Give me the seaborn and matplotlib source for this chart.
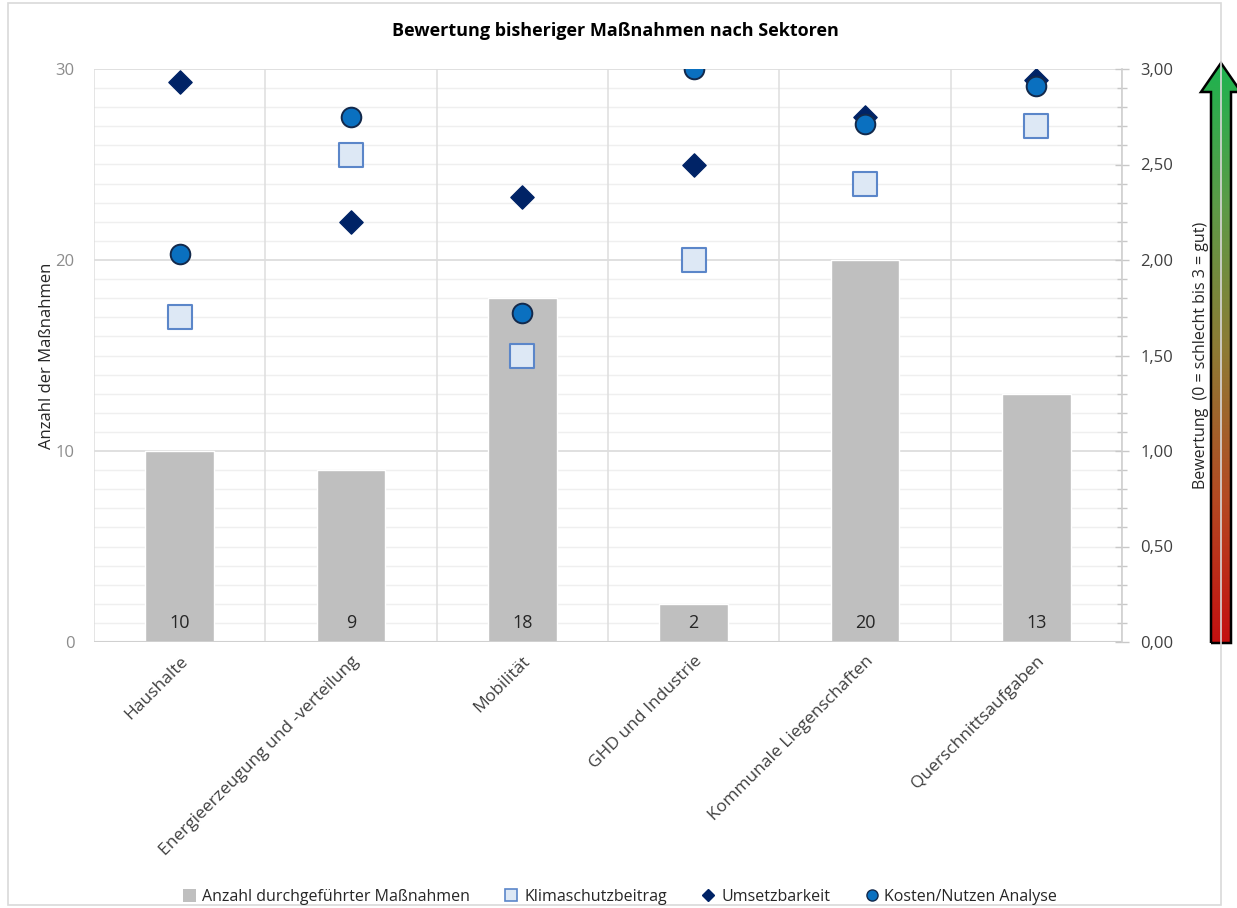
import numpy as np
import pandas as pd
import matplotlib.pyplot as plt
import seaborn as sns
from matplotlib.patches import Polygon, Rectangle
from matplotlib.ticker import FuncFormatter, MultipleLocator
from matplotlib.lines import Line2D

# === Data ===
sektoren = ["Haushalte", "Energieerzeugung und -verteilung", "Mobilität",
            "GHD und Industrie", "Kommunale Liegenschaften", "Querschnittsaufgaben"]
anzahl = [10, 9, 18, 2, 20, 13]
klimaschutz = [1.70, 2.55, 1.50, 2.00, 2.40, 2.70]
umsetzbarkeit = [2.93, 2.20, 2.33, 2.50, 2.75, 2.94]
kosten_nutzen = [2.03, 2.75, 1.72, 3.00, 2.71, 2.91]

df = pd.DataFrame({"Sektor": sektoren, "Anzahl": anzahl})
pos = np.arange(len(sektoren))

# === Style ===
sns.set_theme(style="white")
plt.rcParams["font.family"] = ["Open Sans", "DejaVu Sans"]

fig = plt.figure(figsize=(12.37, 9.08), dpi=100)
ax = fig.add_axes([94 / 1237, 1 - 642 / 908, (1122 - 94) / 1237, (642 - 69) / 908])

# outer frame
fig.patches.append(Rectangle((8 / 1237, 3 / 908), 1213 / 1237, 902 / 908,
                             transform=fig.transFigure, fill=False,
                             edgecolor="#d9d9d9", linewidth=1.2, zorder=0))

# === Bars (left axis) ===
sns.barplot(data=df, x="Sektor", y="Anzahl", color="#bfbfbf", width=0.4,
            saturation=1, ax=ax, zorder=2)
ax.set_xlim(-0.5, 5.5)
ax.set_ylim(0, 30)
ax.set_yticks([0, 10, 20, 30])
ax.yaxis.set_minor_locator(MultipleLocator(1))
ax.grid(which="minor", axis="y", color="#efefef", linewidth=1, zorder=0)
ax.grid(which="major", axis="y", color="#dadada", linewidth=1.2, zorder=0)
for b in np.arange(-0.5, 6.0, 1.0):
    ax.axvline(b, color="#dedede", linewidth=1.1, zorder=1)
ax.set_axisbelow(True)
for s in ax.spines.values():
    s.set_visible(False)
ax.axhline(0, color="#d0d0d0", linewidth=1.5, zorder=3)

ax.set_xlabel("")
ax.set_ylabel("Anzahl der Maßnahmen", fontsize=12, color="#262626", labelpad=0)
ax.tick_params(axis="y", which="both", length=0, labelsize=12, labelcolor="#8c8c8c", pad=14)
ax.tick_params(axis="x", length=0, pad=8)
ax.set_xticks(pos)
ax.set_xticklabels(sektoren, rotation=45, ha="right", rotation_mode="anchor",
                   fontsize=12.5, color="#404040")

for p, v in zip(pos, anzahl):
    ax.text(p, 1.0, str(v), ha="center", va="center", fontsize=13, color="#262626", zorder=4)

# === Markers (right axis) ===
ax2 = ax.twinx()
ax2.set_ylim(0, 3)
sns.scatterplot(x=pos, y=klimaschutz, marker="s", s=300, color="#dde8f5",
                edgecolor="#5b86c9", linewidth=1.5, ax=ax2, zorder=5)
sns.scatterplot(x=pos, y=umsetzbarkeit, marker="D", s=140, color="#002366",
                edgecolor="#002366", linewidth=1, ax=ax2, zorder=6)
sns.scatterplot(x=pos, y=kosten_nutzen, marker="o", s=200, color="#0a70c0",
                edgecolor="#13294b", linewidth=1.4, ax=ax2, zorder=7)
ax2.set_xlim(-0.5, 5.5)
ax2.set_yticks(np.arange(0, 3.01, 0.5))
ax2.yaxis.set_minor_locator(MultipleLocator(0.1))
ax2.yaxis.set_major_formatter(FuncFormatter(lambda v, _: f"{v:.2f}".replace(".", ",")))
ax2.tick_params(axis="y", which="major", direction="inout", length=10, width=1,
                color="#c8c8c8", labelsize=12, labelcolor="#404040", pad=8)
ax2.tick_params(axis="y", which="minor", direction="inout", length=7, width=1, color="#c8c8c8")
for s in ["top", "left", "bottom"]:
    ax2.spines[s].set_visible(False)
ax2.spines["right"].set_color("#d0d0d0")
ax2.spines["right"].set_linewidth(1.2)
ax2.grid(False)
ax2.set_ylabel("Bewertung  (0 = schlecht bis 3 = gut)", fontsize=11.5,
               color="#262626", labelpad=14)

# === Title ===
fig.text(615 / 1237, 1 - 31 / 908, "Bewertung bisheriger Maßnahmen nach Sektoren",
         ha="center", va="center", fontsize=13, fontweight="bold", color="#000000")

# === Legend ===
handles = [
    Rectangle((0, 0), 1, 1, facecolor="#bfbfbf", edgecolor="none"),
    Line2D([], [], marker="s", linestyle="", markersize=8, markerfacecolor="#dde8f5",
           markeredgecolor="#5b86c9", markeredgewidth=1.2),
    Line2D([], [], marker="D", linestyle="", markersize=6, markerfacecolor="#002366",
           markeredgecolor="#002366"),
    Line2D([], [], marker="o", linestyle="", markersize=8, markerfacecolor="#0a70c0",
           markeredgecolor="#13294b"),
]
labels = ["Anzahl durchgeführter Maßnahmen", "Klimaschutzbeitrag", "Umsetzbarkeit",
          "Kosten/Nutzen Analyse"]
fig.legend(handles, labels, loc="center", bbox_to_anchor=(620 / 1237, 1 - 897 / 908),
           ncol=4, frameon=False, fontsize=11.5, handlelength=0.8, handletextpad=0.4,
           columnspacing=2.2, handleheight=0.8)

# === Gradient arrow ===
ax3 = fig.add_axes([1195 / 1237, 0, 42 / 1237, 1])
ax3.set_xlim(1195, 1237)
ax3.set_ylim(908, 0)
ax3.axis("off")
arrow_pts = [(1211, 643), (1211, 92), (1201, 92), (1221, 63), (1241, 92),
             (1231, 92), (1231, 643)]
grad = np.linspace(0, 1, 256).reshape(-1, 1)
cmap = sns.blend_palette(["#1db34f", "#5e9a47", "#8f7a34", "#b44a22", "#c41010"], as_cmap=True)
im = ax3.imshow(grad, cmap=cmap, aspect="auto", extent=(1195, 1241, 643, 63), zorder=1)
poly = Polygon(arrow_pts, closed=True, facecolor="none", edgecolor="black",
               linewidth=1.8, zorder=2)
ax3.add_patch(poly)
im.set_clip_path(poly)
ax3.set_xlim(1195, 1237)
ax3.set_ylim(908, 0)

fig.savefig("out.png", dpi=100)
